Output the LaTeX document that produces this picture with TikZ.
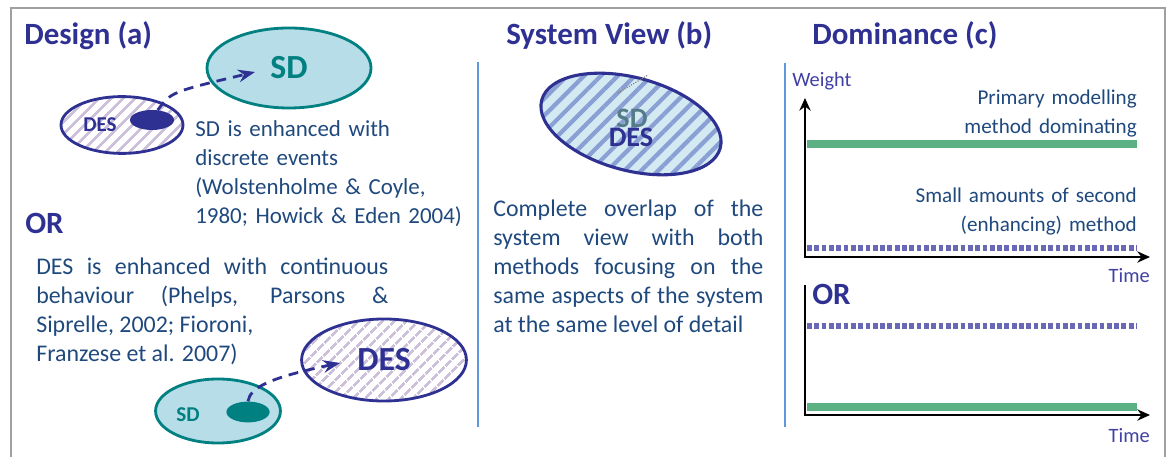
\documentclass[tikz,border=0pt]{standalone}
\usepackage{fontspec}
\setmainfont{Carlito}
\usetikzlibrary{shapes.geometric,arrows.meta,patterns.meta}

\definecolor{titleblue}{RGB}{46,49,146}
\definecolor{bodyblue}{RGB}{31,73,125}
\definecolor{desblue}{RGB}{46,49,146}
\definecolor{desstripe}{RGB}{204,192,218}
\definecolor{sdteal}{RGB}{0,128,128}
\definecolor{sdfill}{RGB}{183,221,232}
\definecolor{mixfill}{RGB}{212,234,242}
\definecolor{mixstripe}{RGB}{138,160,212}
\definecolor{mixsd}{RGB}{84,124,136}
\definecolor{sepblue}{RGB}{95,150,220}
\definecolor{axisblue}{RGB}{64,64,165}
\definecolor{primgreen}{RGB}{91,176,132}
\definecolor{secpurple}{RGB}{104,104,182}
\definecolor{framegray}{RGB}{160,160,160}

\tikzset{
	heading/.style={font=\fontsize{22}{26}\selectfont\bfseries, text=titleblue, inner sep=0pt, anchor=base west},
	bodytext/.style={font=\fontsize{15}{20.6}\selectfont, text=bodyblue, inner sep=0pt, anchor=base west, align=left},
	notetext/.style={bodytext, font=\fontsize{16.3}{20.4}\selectfont},
	justtext/.style={bodytext, font=\fontsize{17}{20.6}\selectfont, align=justify},
	bloblabel/.style={font=\fontsize{15}{18}\selectfont\bfseries, inner sep=0pt},
	sdblob/.style={ellipse, draw=sdteal, line width=2pt, fill=sdfill, inner sep=0pt},
	desblob/.style={ellipse, draw=desblue, line width=2pt, preaction={fill=white}, pattern={Lines[angle=45,distance=6.5pt,line width=2pt]}, pattern color=desstripe, inner sep=0pt},
	mixblob/.style={ellipse, draw=desblue, line width=2.2pt, preaction={fill=mixfill}, pattern={Lines[angle=45,distance=8.5pt,line width=3pt]}, pattern color=mixstripe, inner sep=0pt},
	focus/.style={ellipse, inner sep=0pt, minimum width=1.1cm, minimum height=0.5cm},
	enhance/.style={draw=desblue, line width=2pt, dash pattern=on 7pt off 5pt, -{Stealth[length=12pt,width=9pt,inset=4pt]}},
	axis/.style={line width=1.6pt},
	primary/.style={primgreen, line width=5pt},
	secondary/.style={secpurple, line width=4pt, dash pattern=on 3.4pt off 1.8pt},
	axislabel/.style={font=\fontsize{14.5}{17}\selectfont, text=axisblue, inner sep=0pt},
}

\begin{document}
\begin{tikzpicture}[x=0.025cm,y=0.025cm]
	\useasboundingbox (0,0) rectangle (1168,-457);

	\draw[framegray, line width=1.4pt] (11,-457) -- (11,-8) -- (1165,-8) -- (1165,-457);
	\draw[sepblue, line width=1.4pt] (478,-62) -- (478,-427);
	\draw[sepblue, line width=1.4pt] (785,-63) -- (785,-427);

	\node[heading] (designHead) at (24,-45) {Design (a)};
	\node[heading] (viewHead) at (506,-45) {System View (b)};
	\node[heading] (domHead) at (812,-45) {Dominance (c)};

	% SD enhanced with discrete events
	\node[sdblob, minimum width=4.1cm, minimum height=2cm, font=\fontsize{24}{28}\selectfont\bfseries, text=sdteal] (sdMain) at (289,-68) {SD};
	\node[desblob, minimum width=3.05cm, minimum height=1.42cm] (desSmall) at (122,-125) {};
	\node[bloblabel, text=desblue] (desSmallLbl) at (100,-125) {DES};
	\node[focus, fill=desblue] (desDot) at (152,-120) {};
	\coordinate (sdTip) at (255,-72);
	\draw[enhance] (desDot.60) .. controls (171,-92) .. (sdTip);

	\node[notetext, text width=7.5cm] (sdNote) at (195,-137) {SD is enhanced with\\discrete events\\(Wolstenholme \& Coyle,\\1980; Howick \& Eden 2004)};

	\node[heading] (orLeft) at (25,-234) {OR};
	\node[justtext, text width=8.8cm] (desNote) at (36,-275) {DES is enhanced with continuous\linebreak behaviour (Phelps, Parsons \&\linebreak Siprelle, 2002; Fioroni,\newline Franzese et al. 2007)};

	% DES enhanced with continuous behaviour
	\node[desblob, minimum width=4.12cm, minimum height=2.05cm, font=\fontsize{24}{28}\selectfont\bfseries, text=desblue] (desMain) at (384,-360) {DES};
	\node[sdblob, minimum width=3.12cm, minimum height=1.6cm] (sdSmall) at (218,-411) {};
	\node[bloblabel, text=sdteal] (sdSmallLbl) at (188,-415) {SD};
	\node[focus, fill=sdteal, minimum width=1.08cm, minimum height=0.52cm] (sdDot) at (248,-412) {};
	\coordinate (desTip) at (340,-363);
	\draw[enhance] (sdDot.north) .. controls (250,-388) and (268,-378) .. (desTip);

	% system view
	\node[mixblob, rotate=-15, minimum width=4.62cm, minimum height=2.32cm] (overlap) at (631,-124) {};
	\node[bloblabel, font=\fontsize{20}{24}\selectfont\bfseries, text=mixsd] (overlapSD) at (632,-118) {SD};
	\node[bloblabel, font=\fontsize{20}{24}\selectfont\bfseries, text=desblue] (overlapDES) at (631,-137) {DES};
	\coordinate (hintA) at (618,-93);
	\coordinate (hintB) at (648,-75);
	\draw[gray, densely dotted, line width=0.8pt] (hintA) -- (hintB);

	\node[justtext, text width=6.75cm] (viewNote) at (493,-217) {Complete overlap of the\linebreak system view with both\linebreak methods focusing on the\linebreak same aspects of the system\linebreak at the same level of detail};

	% dominance
	\node[axislabel, anchor=base west] (weightLbl) at (792,-87) {Weight};
	\coordinate (yTopA) at (805,-98);
	\coordinate (origA) at (805,-257);
	\coordinate (xEndA) at (1150,-257);
	\draw[axis, {Stealth[length=9pt,width=8pt]}-{Stealth[length=9pt,width=8pt]}] (yTopA) -- (origA) -- (xEndA);
	\draw[primary] (807,-144) -- (1137,-144);
	\draw[secondary] (807,-248) -- (1137,-248);
	\node[bodytext, anchor=base east, align=right, text width=6cm] (primNote) at (1137,-105) {Primary modelling\\method dominating};
	\node[bodytext, anchor=base east, align=right, text width=6cm] (secNote) at (1137,-203) {Small amounts of second\\(enhancing) method};
	\node[axislabel, anchor=base east] (timeA) at (1150,-283) {Time};

	\node[heading] (orRight) at (812,-305) {OR};
	\coordinate (yTopB) at (805,-285);
	\coordinate (origB) at (805,-415);
	\coordinate (xEndB) at (1150,-415);
	\draw[axis, -{Stealth[length=9pt,width=8pt]}] (yTopB) -- (origB) -- (xEndB);
	\draw[secondary] (807,-326) -- (1137,-326);
	\draw[primary] (807,-407) -- (1137,-407);
	\node[axislabel, anchor=base east] (timeB) at (1150,-442) {Time};
\end{tikzpicture}
\end{document}
